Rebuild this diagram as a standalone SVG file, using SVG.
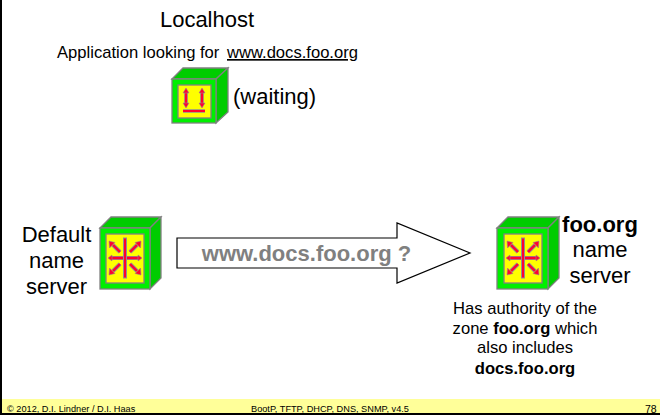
<svg xmlns="http://www.w3.org/2000/svg" width="660" height="415" viewBox="0 0 660 415">
<style>
text{font-family:"Liberation Sans",Arial,sans-serif;fill:#000}
.a{font-size:22px}.m{text-anchor:middle}.s{font-size:16.600px}.f{font-size:9.200px}
.box{stroke:#808080;stroke-width:1.3}
.g{fill:#00cc00}.l{fill:#00f000}.y{fill:#ffff00}
.r{stroke:#909090;stroke-width:4;fill:none}
.q{stroke:#ff0033;stroke-width:2.400;fill:none}
.h{fill:#ff0033;stroke:#909090;stroke-width:.6}
</style>
<defs>
<g id="star">
<path class="r" d="M-13 0H13M-5-6-12-13M5-6 12-13M-5 6-12 13M5 6 12 13"/>
<path class="q" d="M-13 0H13M-5-6-12-13M5-6 12-13M-5 6-12 13M5 6 12 13"/>
<path class="h" d="M-13-3-17 0-13 3ZM13-3 17 0 13 3ZM-16-17-10-15.500-15.500-10ZM16-17 10-15.500 15.500-10ZM-16 17-10 15.500-15.500 10ZM16 17 10 15.500 15.500 10Z"/>
<rect x="-1.500" y="-20" width="3" height="40" fill="#ff0033" stroke="#909090"/>
</g>
</defs>
<rect width="660" height="415" fill="#fff"/>
<rect y="399" width="660" height="15" fill="#ffff99"/>
<path d="M1 0V414H660" fill="none" stroke="#000" stroke-width="2"/>
<g id="connectors">
<path d="M177 238H397V223L470 253 397 283V268H177Z" fill="#fff" stroke="#000" stroke-width="1.2"/>
<text x="306.500" y="261" text-anchor="middle" font-size="22" font-weight="bold" style="fill:#808080">www.docs.foo.org ?</text>
</g>
<g id="localhost">
<text class="a m" x="207" y="27">Localhost</text>
<text class="s" x="57" y="58">Application looking for</text>
<text class="s" x="227" y="58" text-decoration="underline">www.docs.foo.org</text>
<path class="g box" d="M172 79 183 68H228L216 79Z"/>
<path class="g box" d="M216 79 228 68V112L216 123Z"/>
<rect class="l box" x="172" y="79" width="44" height="44"/>
<rect class="y box" x="178" y="85" width="33" height="33"/>
<path class="r" d="M186 91V105M202 91V105M183 111H205" style="stroke-width:3.600"/>
<path class="q" d="M186 91V105M202 91V105M183 111H205" style="stroke-width:2.200"/>
<path class="h" d="M186 88 183 93H189ZM186 108 183 103H189ZM202 88 199 93H205ZM202 108 199 103H205Z"/>
<text class="a" x="233" y="104">(waiting)</text>
</g>
<g id="default-name-server">
<text class="a m" x="56.500" y="242">Default</text>
<text class="a m" x="56.500" y="268">name</text>
<text class="a m" x="56.500" y="294">server</text>
<path class="g box" d="M100 228 111 217H161L150 228Z"/>
<path class="g box" d="M150 228 161 217V278L150 289Z"/>
<rect class="l box" x="100" y="228" width="50" height="61"/>
<rect class="y box" x="106" y="234" width="38" height="49"/>
<use href="#star" x="125" y="258"/>
</g>
<g id="foo-name-server">
<path class="g box" d="M497 228 508 217H559L548 228Z"/>
<path class="g box" d="M548 228 559 217V278L548 289Z"/>
<rect class="l box" x="497" y="228" width="51" height="61"/>
<rect class="y box" x="504" y="234" width="38" height="49"/>
<use href="#star" x="523" y="258"/>
<text class="a m" x="600" y="232" font-weight="bold">foo.org</text>
<text class="a m" x="600" y="257">name</text>
<text class="a m" x="600" y="283">server</text>
<text class="s m" x="525" y="314">Has authority of the</text>
<text class="s m" x="525" y="334">zone <tspan font-weight="bold">foo.org</tspan> which</text>
<text class="s m" x="525" y="353">also includes</text>
<text class="s m" x="525" y="374" font-weight="bold">docs.foo.org</text>
</g>
<g id="footer">
<text class="f" x="7" y="412">© 2012, D.I. Lindner / D.I. Haas</text>
<text class="f" x="251" y="412">BootP, TFTP, DHCP, DNS, SNMP, v4.5</text>
<text x="645" y="413" font-size="10.500">78</text>
</g>
</svg>
